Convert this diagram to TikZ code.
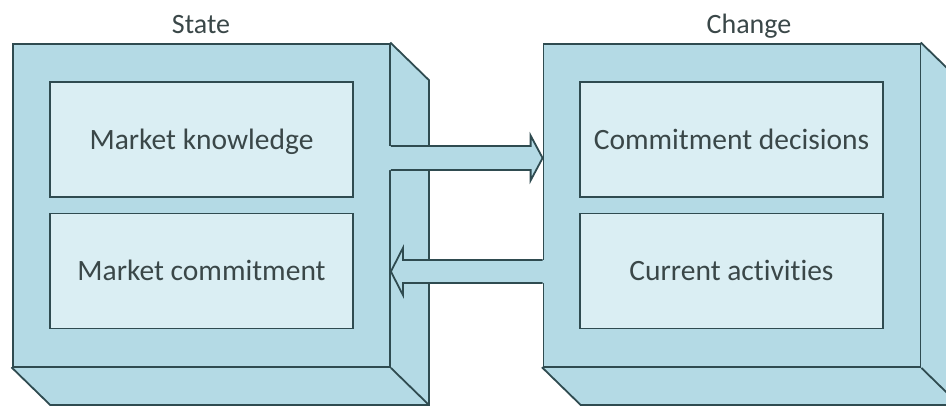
\documentclass[tikz,border=0pt]{standalone}
\usepackage{fontspec}
\setmainfont[Ligatures=NoCommon]{Carlito}
\usetikzlibrary{calc}

\definecolor{boxfill}{HTML}{B4DAE5}
\definecolor{innerfill}{HTML}{DAEEF3}
\definecolor{edge}{HTML}{2F4B50}
\definecolor{ink}{HTML}{3A4748}

\tikzset{
  outline/.style={draw=edge, line width=1.8pt, line join=miter},
  frontface/.style={outline, fill=boxfill, minimum width=377pt, minimum height=323pt, inner sep=0pt},
  panel/.style={outline, fill=innerfill, minimum width=303pt, minimum height=115pt, inner sep=0pt,
    text height=23pt, text depth=4pt,
    text=ink, font=\fontsize{29.5}{34}\selectfont},
  heading/.style={text=ink, font=\fontsize{28}{34}\selectfont, inner sep=0pt, anchor=base},
}

\begin{document}
\begin{tikzpicture}[x=1pt, y=-1pt]
\useasboundingbox (0,0) rectangle (946,405);
\clip (0,0) rectangle (946,405);

% depth of the extruded blocks
\def\dx{38}
\def\dy{37}

% ---- left block: State ----
\node[frontface] (state) at (201.5,205.5) {};
\filldraw[outline, fill=boxfill]
  (state.north east) -- ++(\dx,\dy) -- ($(state.south east)+(\dx,\dy)$)
  -- ($(state.south west)+(\dx,\dy)$) -- (state.south west) -- cycle;
\draw[outline] (state.south east) -- ++(\dx,\dy);
\node[frontface] at (state) {};
\node[heading] (statetitle) at (201,33) {State};
\node[panel] (knowledge) at (201.5,139.5) {Market knowledge};
\node[panel] (commitment) at (201.5,271) {Market commitment};

% ---- right block: Change ----
\node[frontface] (change) at (732,205.5) {};
\filldraw[outline, fill=boxfill]
  (change.north east) -- ++(\dx,\dy) -- ($(change.south east)+(\dx,\dy)$)
  -- ($(change.south west)+(\dx,\dy)$) -- (change.south west) -- cycle;
\draw[outline] (change.south east) -- ++(\dx,\dy);
\node[frontface] at (change) {};
\node[heading] (changetitle) at (749,33) {Change};
\node[panel] (decisions) at (731.5,139.5) {Commitment decisions};
\node[panel] (activities) at (731.5,271) {Current activities};

% ---- block arrows between the two blocks ----
% State -> Change
\coordinate (a1s) at ($(state.east)+(0,-47.5)$);
\coordinate (a1e) at ($(change.west)+(0,-47.5)$);
\fill[boxfill] ($(a1s)+(-2,-12)$) -- ($(a1e)+(-12,-12)$) -- ($(a1e)+(-12,-22.5)$)
  -- (a1e) -- ($(a1e)+(-12,22.5)$) -- ($(a1e)+(-12,12)$) -- ($(a1s)+(-2,12)$) -- cycle;
\draw[outline] (a1s) ++(0,-12) -- ($(a1e)+(-12,-12)$) -- ($(a1e)+(-12,-22.5)$)
  -- (a1e) -- ($(a1e)+(-12,22.5)$) -- ($(a1e)+(-12,12)$) -- ($(a1s)+(0,12)$);

% Change -> State
\coordinate (a2s) at ($(change.west)+(0,66)$);
\coordinate (a2e) at ($(state.east)+(0,66)$);
\fill[boxfill] ($(a2s)+(2,-11.5)$) -- ($(a2e)+(12,-11.5)$) -- ($(a2e)+(12,-23.5)$)
  -- (a2e) -- ($(a2e)+(12,23.5)$) -- ($(a2e)+(12,11.5)$) -- ($(a2s)+(2,11.5)$) -- cycle;
\draw[outline] (a2s) ++(0,-11.5) -- ($(a2e)+(12,-11.5)$) -- ($(a2e)+(12,-23.5)$)
  -- (a2e) -- ($(a2e)+(12,23.5)$) -- ($(a2e)+(12,11.5)$) -- ($(a2s)+(0,11.5)$);
\end{tikzpicture}
\end{document}
